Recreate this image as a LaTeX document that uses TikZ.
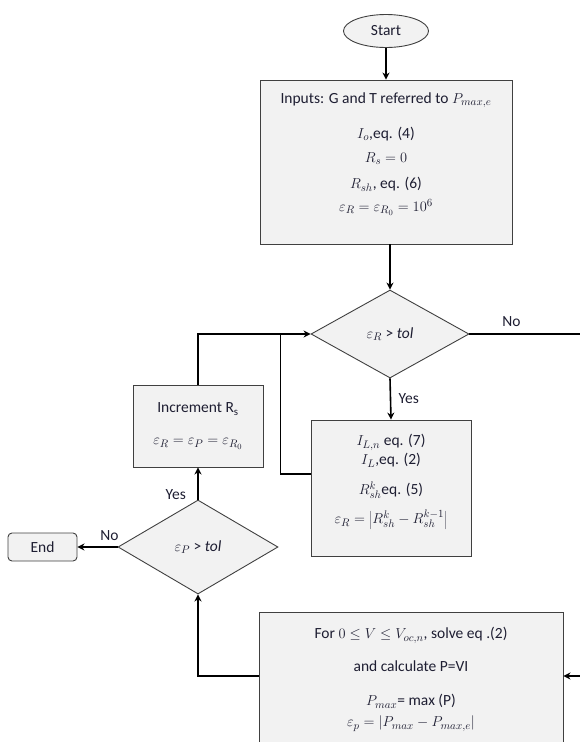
\documentclass[tikz,border=0pt]{standalone}
\usepackage{fontspec}
\setmainfont{Carlito}
\usetikzlibrary{shapes.geometric,arrows.meta}
\definecolor{boxfill}{RGB}{242,242,242}
\definecolor{boxline}{RGB}{64,64,64}
\definecolor{txt}{RGB}{30,30,50}
\begin{document}
\begin{tikzpicture}[x=1pt,y=-1pt,
	every node/.style={font=\fontsize{15.5}{18}\selectfont,text=txt},
	procbox/.style={rectangle,draw=boxline,fill=boxfill,line width=0.9pt,align=center,inner sep=0pt},
	decide/.style={diamond,draw=boxline,fill=boxfill,line width=0.9pt,inner sep=0pt},
	flow/.style={line width=1.6pt,-{Stealth[length=7pt,width=7pt]}},
	link/.style={line width=1.6pt}]
	\clip (0,0) rectangle (580,742);
	\node [ellipse,draw=boxline,fill=boxfill,line width=0.9pt,minimum width=85,minimum height=33] (start) at (386,31) {Start};
	\node [procbox,minimum width=252,minimum height=164] (inputs) at (386,162) {Inputs: G and T referred to $P_{max,e}$\\[17pt]
		$I_o$,eq. (4)\\[6pt]
		$R_s=0$\\[8pt]
		$R_{sh}$, eq. (6)\\[5pt]
		$\varepsilon_R=\varepsilon_{R_0}=10^6$\\[2pt]};
	\node [decide,minimum width=158,minimum height=88] (testR) at (390,334) {$\varepsilon_R$ > \textit{tol}};
	\node [procbox,minimum width=160,minimum height=136] (update) at (391,488) {$I_{L,n}$ eq. (7)\\[1pt]
		$I_L$,eq. (2)\\[12pt]
		$R^k_{sh}$eq. (5)\\[11pt]
		$\varepsilon_R=\left|R^k_{sh}-R^{k-1}_{sh}\right|$\\[0pt]};
	\node [procbox,minimum width=130,minimum height=82] (incr) at (198,426) {Increment R\textsubscript{s}\\[14pt]
		$\varepsilon_R=\varepsilon_P=\varepsilon_{R_0}$};
	\node [decide,minimum width=160,minimum height=94] (testP) at (198,547) {$\varepsilon_P$ > \textit{tol}};
	\node [procbox,rounded corners=4pt,minimum width=69,minimum height=28] (stop) at (42.5,547) {End};
	\node [procbox,minimum width=304,minimum height=134,anchor=north] (sweep) at (411,612) {For $0\le V\le V_{oc,n}$, solve eq .(2)\\[15pt]
		and calculate P=VI\\[16pt]
		$P_{max}$= max (P)\\[3pt]
		$\varepsilon_p=\left|P_{max}-P_{max,e}\right|$};
	\coordinate (noexit) at (580,334);
	\coordinate (loopin) at (580,676);
	\draw [flow] (start) -- (inputs);
	\draw [flow] (inputs.south -| testR.north) -- (testR.north);
	\draw [link] (testR.east) -- (noexit) node [pos=0.38,above=3pt] {No};
	\draw [flow] (testR.south) -- (update.north) node [midway,right=4pt] {Yes};
	\draw [flow] (incr.north) |- (testR.west);
	\draw [link] ([yshift=14pt]update.west) -| ([xshift=-30pt]update.west |- testR.west);
	\draw [flow] (testP.north) -- (incr.south) node [pos=0.15,left=8pt] {Yes};
	\draw [flow] (testP.west) -- (stop.east) node [pos=0.2,above=2pt] {No};
	\draw [flow] ([yshift=-64pt]sweep.north west) -| (testP.south);
	\draw [flow] (loopin) -- (loopin -| sweep.east);
\end{tikzpicture}
\end{document}
